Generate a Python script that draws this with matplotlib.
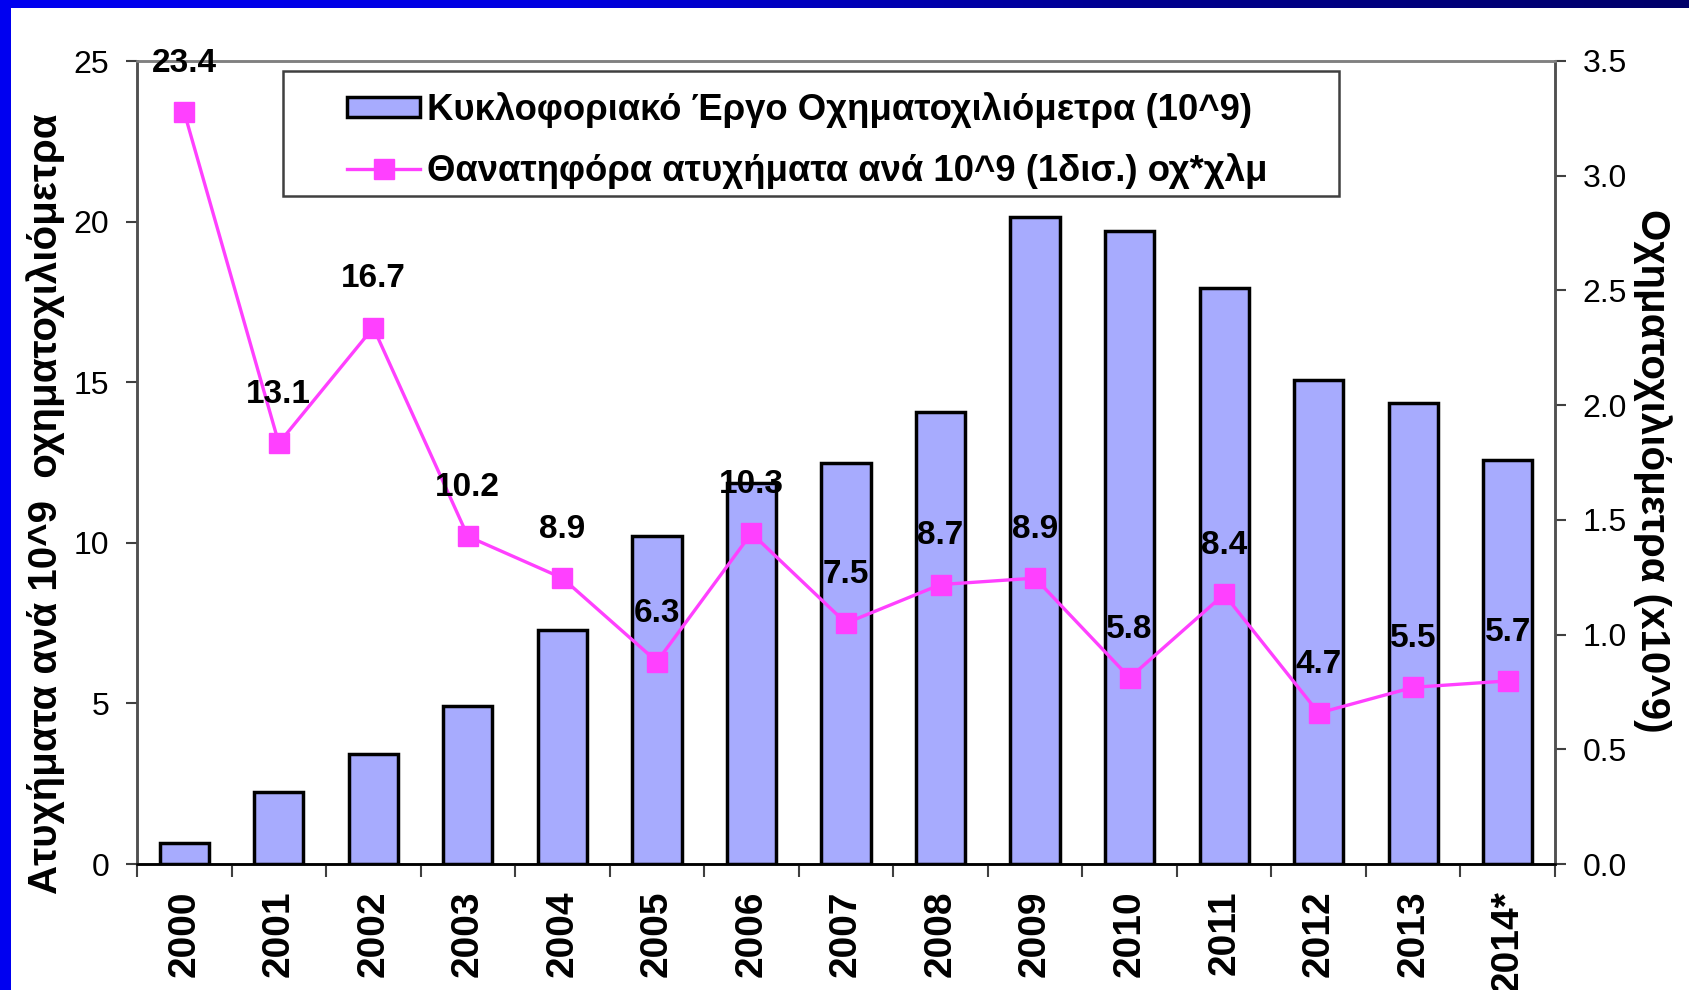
import numpy as np
import matplotlib
matplotlib.use("Agg")
import matplotlib.pyplot as plt
from matplotlib.patches import Rectangle, Patch
from matplotlib.lines import Line2D

plt.rcParams['font.family'] = ['Liberation Sans', 'DejaVu Sans']

years = ['2000', '2001', '2002', '2003', '2004', '2005', '2006', '2007',
         '2008', '2009', '2010', '2011', '2012', '2013', '2014*']
# οχηματοχιλιόμετρα (x10^9) - δεξιός άξονας
vkm = [0.09, 0.315, 0.48, 0.69, 1.02, 1.43, 1.66, 1.75, 1.97, 2.82, 2.76, 2.51, 2.11, 2.01, 1.76]
# θανατηφόρα ατυχήματα ανά 10^9 οχ*χλμ - αριστερός άξονας
fatal = [23.4, 13.1, 16.7, 10.2, 8.9, 6.3, 10.3, 7.5, 8.7, 8.9, 5.8, 8.4, 4.7, 5.5, 5.7]

bar_label = 'Κυκλοφοριακό Έργο Οχηματοχιλιόμετρα (10^9)'
line_label = 'Θανατηφόρα ατυχήματα ανά 10^9 (1δισ.) οχ*χλμ'

bar_col = '#A7ABFE'
line_col = '#FF40FF'
bg_col = '#CACACA'

fig = plt.figure(figsize=(16.9, 9.9), dpi=100)
fig.patch.set_facecolor('white')

# μπλε περίγραμμα της διαφάνειας
fig.patches.append(Rectangle((0, 0), 11 / 1690, 1, transform=fig.transFigure,
                             facecolor='#0000F0', edgecolor='none', zorder=0))
band = fig.add_axes([0, 1 - 8 / 990, 1, 8 / 990])
grad = np.linspace(0, 1, 256).reshape(1, -1)
band.imshow(grad, aspect='auto', cmap=matplotlib.colors.LinearSegmentedColormap.from_list(
    'b', ['#0000F0', '#0000E0', '#000090', '#00006A']))
band.axis('off')

ax = fig.add_axes([137 / 1690, 1 - 864 / 990, (1555 - 137) / 1690, (864 - 61) / 990])
ax2 = ax.twinx()
ax.set_zorder(ax2.get_zorder() + 1)
ax.patch.set_visible(False)
ax2.patch.set_facecolor(bg_col)

x = np.arange(len(years))
ax2.bar(x, vkm, width=0.52, color=bar_col, edgecolor='black', linewidth=2.5, zorder=2)
ax.plot(x, fatal, color=line_col, lw=2.4, marker='s', markersize=14,
        markerfacecolor=line_col, markeredgecolor=line_col, zorder=3)

for xi, v in zip(x, fatal):
    ax.annotate(f'{v:.1f}', (xi, v), xytext=(0, 35), textcoords='offset points',
                ha='center', va='center', fontsize=24, fontweight='bold', color='black')

ax.set_xlim(-0.5, len(years) - 0.5)
ax.set_ylim(0, 25)
ax2.set_ylim(0, 3.5)
ax.set_yticks([0, 5, 10, 15, 20, 25])
ax2.set_yticks(np.arange(0, 3.51, 0.5))
ax2.set_yticklabels([f'{t:.1f}' for t in np.arange(0, 3.51, 0.5)])

ax.set_xticks(x)
ax.set_xticklabels(years, rotation=90, fontsize=28, fontweight='bold')
ax.set_xticks(np.arange(-0.5, len(years), 1), minor=True)
ax.tick_params(axis='x', which='major', length=0, pad=19)
ax.tick_params(axis='x', which='minor', length=9, width=1.5, color='#404040', direction='out')
ax.tick_params(axis='y', labelsize=23, length=8, width=1.5, color='#404040', pad=12)
ax2.tick_params(axis='y', labelsize=23, length=8, width=1.5, color='#404040', pad=12)

for a in (ax, ax2):
    a.spines['left'].set_color('#505050')
    a.spines['right'].set_color('#505050')
    a.spines['top'].set_color('#808080')
    a.spines['bottom'].set_color('black')
    for s in a.spines.values():
        s.set_linewidth(1.8)

fig.text(46 / 1690, 1 - 504 / 990, 'Ατυχήματα ανά 10^9  οχηματοχιλιόμετρα', rotation=90,
         ha='center', va='center', fontsize=29, fontweight='bold')
fig.text(1652 / 1690, 1 - 471 / 990, 'Οχηματοχιλιόμετρα (x10^9)', rotation=270,
         ha='center', va='center', fontsize=29, fontweight='bold')

# υπόμνημα
fig.patches.append(Rectangle((283 / 1690, 1 - 196 / 990), (1339 - 283) / 1690, (196 - 71) / 990,
                             transform=fig.transFigure, facecolor='white',
                             edgecolor='#404040', linewidth=1.8, zorder=5))
handles = [Patch(facecolor=bar_col, edgecolor='black', linewidth=2.5),
           Line2D([], [], color=line_col, lw=2.4, marker='s', markersize=14)]
leg = fig.legend(handles, [bar_label, line_label], loc='upper left',
                 bbox_to_anchor=(347 / 1690, 1 - 92 / 990), frameon=False,
                 prop={'size': 26.3, 'weight': 'bold'}, handlelength=2.0, handleheight=0.45,
                 handletextpad=0.2, labelspacing=0.68, borderpad=0, borderaxespad=0)
leg.set_zorder(6)

fig.savefig('out.png', dpi=100)
